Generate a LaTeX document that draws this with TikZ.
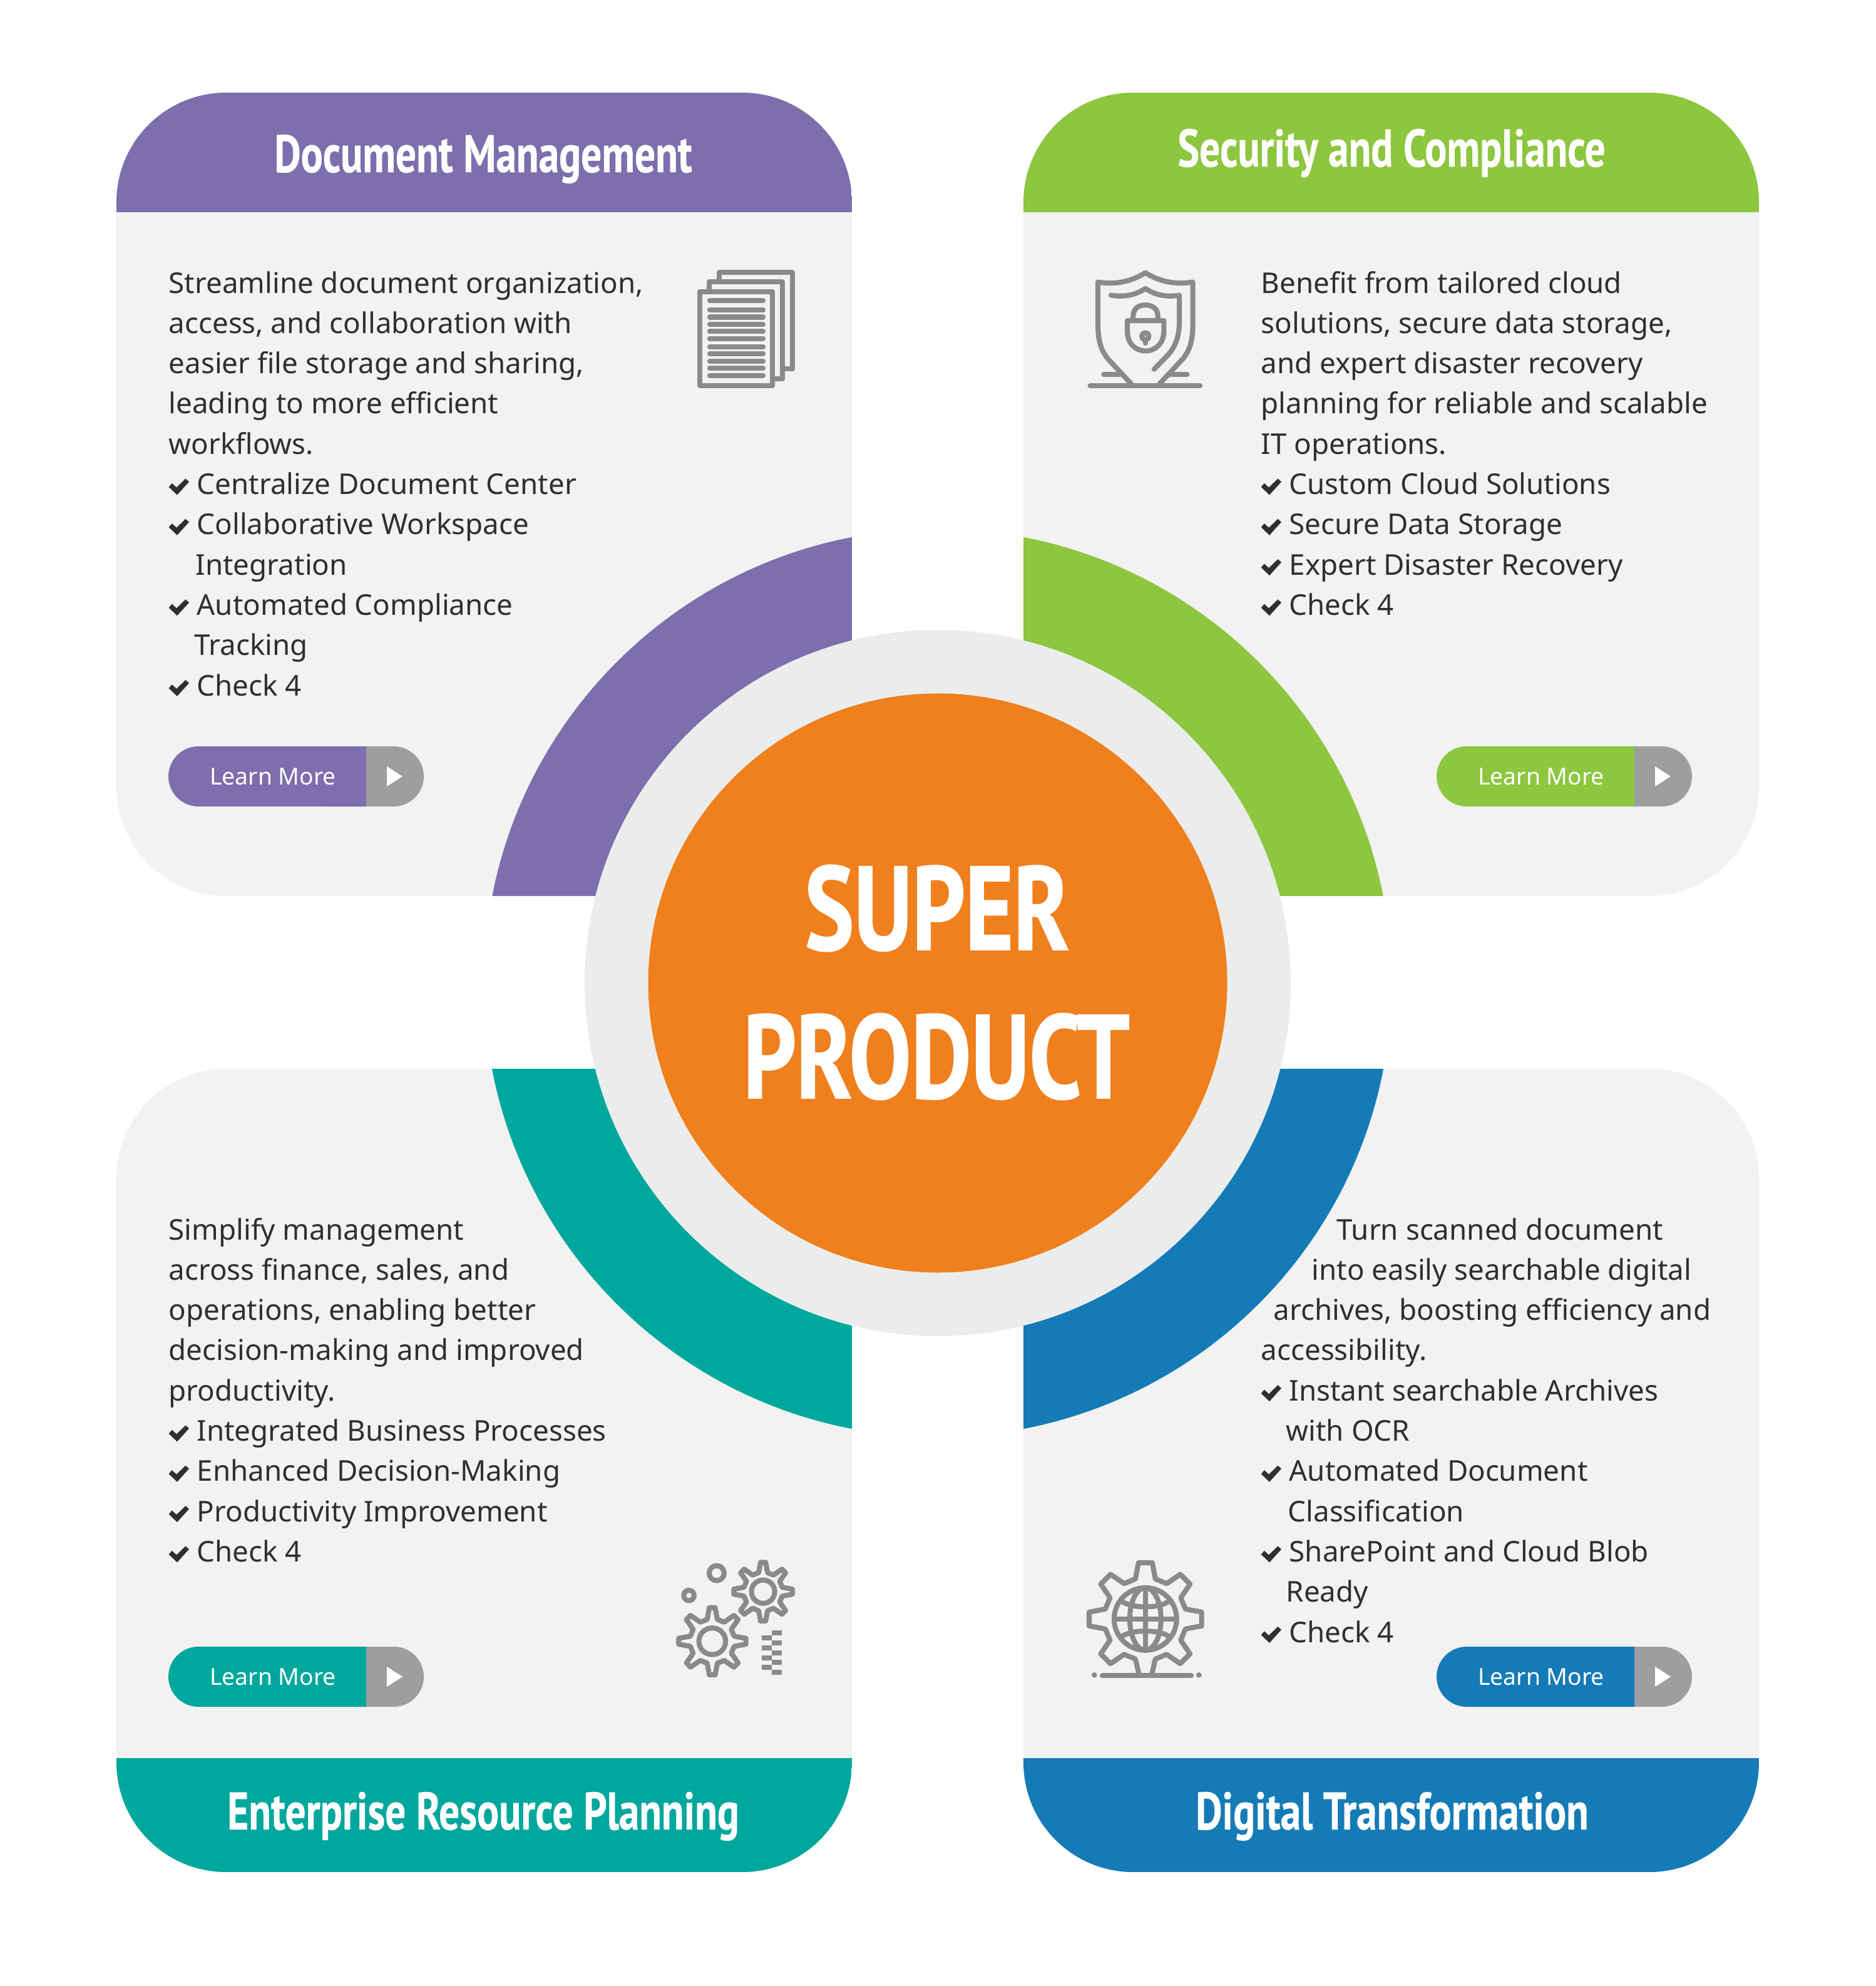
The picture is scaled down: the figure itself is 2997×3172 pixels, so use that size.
\documentclass[tikz,border=0pt]{standalone}
\usepackage{fontspec}
\usepackage{xcolor}
\setmainfont{Noto Sans}
\newfontfamily\headfont[FakeStretch=0.775,FakeBold=0.5]{PT Sans}
\newfontfamily\titlefont[FakeStretch=0.78,FakeBold=1]{PT Sans}

\definecolor{docpurple}{HTML}{7D6EAD}
\definecolor{secgreen}{HTML}{8DC63F}
\definecolor{erpteal}{HTML}{00A79D}
\definecolor{digblue}{HTML}{157BB7}
\definecolor{coreorange}{HTML}{F07F1D}
\definecolor{ringgray}{HTML}{EBEDEC}
\definecolor{cardgray}{HTML}{F2F2F2}
\definecolor{btngray}{HTML}{9D9E9E}
\definecolor{icongray}{HTML}{8A8A8A}
\definecolor{bodyink}{HTML}{2F2F2F}

\newcommand{\chk}{\makebox[0.45cm][l]{\tikz[baseline=0pt,x=0.01cm,y=0.01cm] \fill[bodyink] (0,11.7) -- (5,17.7) -- (12.3,11) -- (26.7,25) -- (32.3,20) -- (13.3,-1) -- cycle;}}
\newcommand{\cogpath}[2]{(-13:#1) \foreach \a in {0,45,...,315} {-- (\a-13:#1) -- (\a-5:#2) -- (\a+5:#2) -- (\a+13:#1)} -- cycle}

\tikzset{
  bodytxt/.style={anchor=base west, inner sep=0pt, text=bodyink, font=\fontsize{13}{15}\selectfont},
  headtxt/.style={anchor=base, inner sep=0pt, text=white, font=\headfont\bfseries\fontsize{24}{28}\selectfont},
  titletxt/.style={anchor=base, inner sep=0pt, text=white, font=\titlefont\bfseries\fontsize{54}{60}\selectfont},
  learntxt/.style={inner sep=0pt, text=white, font=\fontsize{10.6}{12}\selectfont},
  iconline/.style={draw=icongray, line width=2.3pt, line join=round, line cap=round},
  iconscope/.style={x=0.003333cm, y=-0.003333cm}
}

\begin{document}
\begin{tikzpicture}[x=0.01cm, y=-0.01cm]
  \useasboundingbox (0,0) rectangle (2997,3172);
  \coordinate (ctr) at (1498,1570);

  % cards with header band and ring sector
  \foreach \cardx/\cardy/\heady/\headh/\col in {186/148/148/191/docpurple, 1635/148/148/191/secgreen, 186/1707/2808/182/erpteal, 1635/1707/2808/182/digblue} {
    \begin{scope}
      \clip[rounded corners=1.75cm] (\cardx,\cardy) rectangle ++(1175,1283);
      \fill[cardgray] (\cardx,\cardy) rectangle ++(1175,1283);
      \fill[\col] (\cardx,\heady) rectangle ++(1175,\headh);
      \fill[\col] (ctr) circle (725);
    \end{scope}
  }

  % center
  \fill[ringgray] (ctr) circle (564);
  \fill[coreorange] (ctr) circle (462.5);
  \node[titletxt] (titleA) at (1497,1517) {SUPER};
  \node[titletxt] (titleB) at (1496,1754) {PRODUCT};

  % headers
  \node[headtxt] (headDoc) at (772,275) {Document Management};
  \node[headtxt] (headSec) at (2223,266) {Security and Compliance};
  \node[headtxt] (headErp) at (772,2922) {Enterprise Resource Planning};
  \node[headtxt] (headDig) at (2224,2922) {Digital Transformation};

  % body text
  \foreach \tx/\txt [count=\i from 0] in {
      269/{Streamline document organization,},
      269/{access, and collaboration with},
      269/{easier file storage and sharing,},
      269/{leading to more efficient},
      269/{workflows.},
      269/{\chk Centralize Document Center},
      269/{\chk Collaborative Workspace},
      312/{Integration},
      269/{\chk Automated Compliance},
      310/{Tracking},
      269/{\chk Check 4}} {
    \node[bodytxt] (docline\i) at (\tx,468+64.3*\i) {\txt};
  }
  \foreach \tx/\txt [count=\i from 0] in {
      2014/{Benefit from tailored cloud},
      2014/{solutions, secure data storage,},
      2014/{and expert disaster recovery},
      2014/{planning for reliable and scalable},
      2014/{IT operations.},
      2014/{\chk Custom Cloud Solutions},
      2014/{\chk Secure Data Storage},
      2014/{\chk Expert Disaster Recovery},
      2014/{\chk Check 4}} {
    \node[bodytxt] (secline\i) at (\tx,468+64.3*\i) {\txt};
  }
  \foreach \tx/\txt [count=\i from 0] in {
      269/{Simplify management},
      269/{across finance, sales, and},
      269/{operations, enabling better},
      269/{decision-making and improved},
      269/{productivity.},
      269/{\chk Integrated Business Processes},
      269/{\chk Enhanced Decision-Making},
      269/{\chk Productivity Improvement},
      269/{\chk Check 4}} {
    \node[bodytxt] (erpline\i) at (\tx,1980+64.3*\i) {\txt};
  }
  \foreach \tx/\txt [count=\i from 0] in {
      2135/{Turn scanned document},
      2095/{into easily searchable digital},
      2034/{archives, boosting efficiency and},
      2014/{accessibility.},
      2014/{\chk Instant searchable Archives},
      2054/{with OCR},
      2014/{\chk Automated Document},
      2057/{Classification},
      2014/{\chk SharePoint and Cloud Blob},
      2054/{Ready},
      2014/{\chk Check 4}} {
    \node[bodytxt] (digline\i) at (\tx,1980+64.3*\i) {\txt};
  }

  % learn more buttons
  \foreach \bx/\by/\col/\nm in {269/1192/docpurple/Doc, 2295/1192/secgreen/Sec, 269/2630/erpteal/Erp, 2295/2630/digblue/Dig} {
    \fill[btngray, rounded corners=0.48cm] (\bx+200,\by) rectangle ++(208,96);
    \fill[\col] [rounded corners=0.48cm] (\bx+200,\by) -- (\bx,\by) -- (\bx,\by+96) -- (\bx+200,\by+96) [sharp corners] -- (\bx+316,\by+96) -- (\bx+316,\by) -- cycle;
    \fill[white] (\bx+349,\by+32) -- (\bx+374,\by+48) -- (\bx+349,\by+64) -- cycle;
    \node[learntxt] (learn\nm) at (\bx+167,\by+48) {Learn More};
  }

  % icon: documents
  \begin{scope}[shift={(1050,380)}, iconscope]
    \draw[iconline] (298,210) -- (298,165) -- (649,165) -- (649,627) -- (600,627);
    \draw[iconline] (250,255) -- (250,211) -- (600,211) -- (600,675) -- (553,675);
    \draw[iconline] (204,258) rectangle (554,708);
    \foreach \ly in {301,346,380,415,449,484,522,557,591,626,660} {
      \draw[iconline] (252,\ly) -- (508,\ly);
    }
  \end{scope}

  % icon: shield
  \begin{scope}[shift={(1700,400)}, iconscope]
    \draw[iconline] (322,640) -- (210,520) .. controls (170,470) and (162,420) .. (162,340) -- (162,152) .. controls (250,165) and (320,150) .. (390,107) .. controls (460,150) and (530,165) .. (618,152) -- (618,340) .. controls (618,420) and (610,470) .. (570,520) -- (458,640);
    \draw[iconline] (225,215) .. controls (290,225) and (340,215) .. (390,183) .. controls (440,215) and (490,225) .. (553,215) -- (553,340) .. controls (553,420) and (530,465) .. (500,500) -- (432,570);
    \draw[iconline] (303,337) -- (479,337) -- (479,385) .. controls (479,445) and (440,482) .. (391,482) .. controls (340,482) and (303,445) .. (303,385) -- cycle;
    \draw[iconline] (331,330) -- (331,318) .. controls (331,280) and (355,262) .. (390,262) .. controls (425,262) and (450,280) .. (450,318) -- (450,330);
    \fill[icongray] (390,412) circle (29);
    \draw[iconline] (390,412) -- (390,445);
    \fill[cardgray] (390,412) circle (4);
    \draw[iconline] (190,596) -- (270,596);
    \draw[iconline] (510,596) -- (590,596);
    \draw[iconline] (125,648) -- (652,648);
  \end{scope}

  % icon: gears
  \begin{scope}[shift={(1050,2450)}, iconscope]
    \begin{scope}[shift={(264,515)}]
      \draw[iconline] \cogpath{108}{162};
      \draw[iconline] (0,0) circle (64);
    \end{scope}
    \begin{scope}[shift={(508,277)}]
      \draw[iconline] \cogpath{94}{141};
      \draw[iconline] (0,0) circle (56);
    \end{scope}
    \draw[iconline] (285,188) circle (36);
    \draw[iconline] (152,295) circle (25);
    \foreach \ry in {462,510,558,605,653} {
      \fill[icongray] (550,\ry) rectangle ++(48,24);
    }
    \foreach \ry in {486,534,582,629} {
      \fill[icongray] (502,\ry) rectangle ++(48,24);
    }
  \end{scope}

  % icon: globe cog
  \begin{scope}[shift={(1700,2450)}, iconscope]
    \begin{scope}[shift={(390,408)}]
      \draw[iconline] (97:262) -- (104:198) \foreach \a in {135,180,...,405} {-- (\a-14:198) -- (\a-7:272) -- (\a+7:272) -- (\a+14:198)} -- (436:198) -- (443:262);
      \draw[iconline] (0,0) circle (150);
      \draw[iconline] (0,0) ellipse (75 and 150);
      \draw[iconline] (0,-148) -- (0,148);
      \draw[iconline] (-140,0) -- (140,0);
      \draw[iconline] (-110,-83) .. controls (-60,-50) and (60,-50) .. (110,-83);
      \draw[iconline] (-110,82) .. controls (-60,50) and (60,50) .. (110,82);
    \end{scope}
    \draw[iconline] (183,680) -- (610,680);
    \fill[icongray] (145,677) circle (13);
    \fill[icongray] (647,677) circle (13);
  \end{scope}
\end{tikzpicture}
\end{document}
